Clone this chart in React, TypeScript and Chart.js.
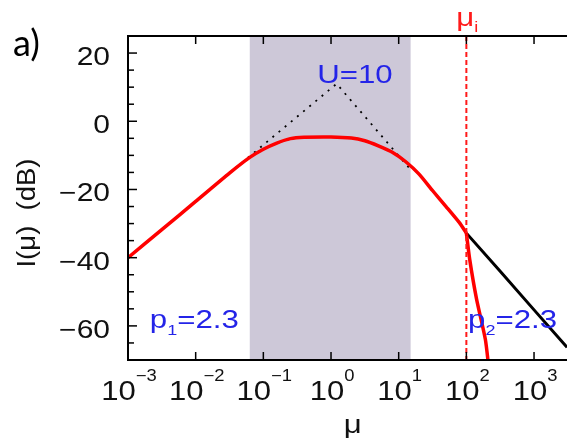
import React, { useEffect, useRef } from "react";
import { Chart, registerables } from "chart.js";
Chart.register(...registerables);

// ---- data (mu on a log axis, intensity in dB) ----
const muCurve = [0.001, 0.00316, 0.01, 0.0316, 0.063, 0.1, 0.158, 0.251, 0.398, 1.0, 2.0, 3.16, 5.01, 7.94, 12.6, 20.0, 31.6, 50.1, 79.4, 100];
const dbCurve = [-40, -31.8, -23.5, -15.2, -10.6, -8.2, -6.4, -5.1, -4.7, -4.6, -4.9, -5.7, -7.2, -9.0, -11.8, -15.5, -20.3, -25.0, -29.8, -32.8];
const muCut = [100, 112, 141, 191, 214];
const dbCut = [-32.8, -40.5, -52, -64, -72];
const muTail = [100, 316, 1000, 3070];
const dbTail = [-32.8, -44, -55.3, -66.3];
const muAsym = [0.0316, 1.21, 15.8];
const dbAsym = [-15.2, 11, -14.7];
const shadeRange = [0.063, 15];
const muI = 100;
const xMin = 0.001;
const xMax = 3070;
const yMin = -70;
const yMax = 25;
const yMajorTicks = [-60, -40, -20, 0, 20];
const yMinorStep = 5;
const xExponents = [-3, -2, -1, 0, 1, 2, 3];
const uLabel = { mu: 2.26, db: 11.2, text: "U=10" };
const p1Label = { mu: 0.0021, db: -60.5, main: "p", sub: "1", rest: "=2.3" };
const p2Label = { mu: 106, db: -60.5, main: "p", sub: "2", rest: "=2.3" };

const SX = 1.2;
const SANS = '"Liberation Sans", Arial, sans-serif';
const BLUE = "#2424e8";
const RED = "#ff1a1a";

type Part = { t: string; size: number; dy: number; font?: string };

function richWidth(ctx: CanvasRenderingContext2D, parts: Part[], sx: number) {
  let w = 0;
  for (const p of parts) {
    ctx.font = `${p.size}px ${p.font || SANS}`;
    w += ctx.measureText(p.t).width * sx;
  }
  return w;
}

function drawRich(
  ctx: CanvasRenderingContext2D,
  parts: Part[],
  x: number,
  y: number,
  align: "left" | "center" | "right",
  color: string,
  sx = SX
) {
  ctx.save();
  ctx.fillStyle = color;
  ctx.textBaseline = "alphabetic";
  ctx.textAlign = "left";
  const w = richWidth(ctx, parts, sx);
  let cx = align === "left" ? x : align === "center" ? x - w / 2 : x - w;
  for (const p of parts) {
    ctx.font = `${p.size}px ${p.font || SANS}`;
    const pw = ctx.measureText(p.t).width;
    ctx.save();
    ctx.translate(cx, y + p.dy);
    ctx.scale(sx, 1);
    ctx.fillText(p.t, 0, 0);
    ctx.restore();
    cx += pw * sx;
  }
  ctx.restore();
}

const decorPlugin = {
  id: "decor",
  beforeDatasetsDraw(chart: any) {
    const { ctx, chartArea, scales } = chart;
    const x = scales.x;
    const x0 = x.getPixelForValue(shadeRange[0]);
    const x1 = x.getPixelForValue(shadeRange[1]);
    ctx.save();
    ctx.fillStyle = "#cdc8d8";
    ctx.fillRect(x0, chartArea.top, x1 - x0, chartArea.bottom - chartArea.top);
    ctx.restore();
  },
  afterDatasetsDraw(chart: any) {
    const { ctx, chartArea, scales } = chart;
    const xs = scales.x;
    const ys = scales.y;
    const { left, right, top, bottom } = chartArea;

    // mu_i dashed line
    const xi = xs.getPixelForValue(muI);
    ctx.save();
    ctx.strokeStyle = RED;
    ctx.lineWidth = 2;
    ctx.setLineDash([5, 3]);
    ctx.beginPath();
    ctx.moveTo(xi, top);
    ctx.lineTo(xi, bottom);
    ctx.stroke();
    ctx.restore();

    // axes
    ctx.save();
    ctx.strokeStyle = "#000";
    ctx.lineWidth = 2;
    ctx.beginPath();
    ctx.moveTo(right, top);
    ctx.lineTo(left, top);
    ctx.lineTo(left, bottom);
    ctx.lineTo(right, bottom);
    ctx.stroke();

    // y ticks
    ctx.lineWidth = 1.5;
    for (let v = yMin + yMinorStep; v < yMax; v += yMinorStep) {
      const py = ys.getPixelForValue(v);
      const major = yMajorTicks.includes(v);
      ctx.beginPath();
      ctx.moveTo(left, py);
      ctx.lineTo(left + (major ? 9 : 6), py);
      ctx.stroke();
    }
    // x ticks (top and bottom)
    for (const e of xExponents) {
      const px = xs.getPixelForValue(Math.pow(10, e));
      if (px <= left + 1) continue;
      ctx.beginPath();
      ctx.moveTo(px, bottom);
      ctx.lineTo(px, bottom - 8);
      ctx.moveTo(px, top);
      ctx.lineTo(px, top + 8);
      ctx.stroke();
    }
    ctx.restore();

    // y tick labels
    for (const v of yMajorTicks) {
      const py = ys.getPixelForValue(v);
      const txt = v < 0 ? "\u2212" + Math.abs(v) : String(v);
      drawRich(ctx, [{ t: txt, size: 25, dy: 0 }], left - 18, py + 12, "right", "#111");
    }
    // x tick labels
    for (const e of xExponents) {
      const px = xs.getPixelForValue(Math.pow(10, e));
      const sup = e < 0 ? "\u2212" + Math.abs(e) : String(e);
      drawRich(
        ctx,
        [
          { t: "10", size: 27, dy: 0 },
          { t: sup, size: 16, dy: -19 },
        ],
        px + 1,
        bottom + 40,
        "center",
        "#111",
        1.15
      );
    }

    // axis titles
    drawRich(ctx, [{ t: "\u03bc", size: 26, dy: 0 }], xs.getPixelForValue(Math.pow(10, 0.32)), bottom + 73, "center", "#111");
    ctx.save();
    ctx.translate(35, (top + bottom) / 2 + 15);
    ctx.rotate(-Math.PI / 2);
    drawRich(ctx, [{ t: "I(\u03bc)  (dB)", size: 25, dy: 0 }], 0, 0, "center", "#111", 1.1);
    ctx.restore();

    // mu_i label
    ctx.save();
    ctx.font = `26px ${SANS}`;
    const wmu = ctx.measureText("\u03bc").width * SX;
    ctx.restore();
    drawRich(
      ctx,
      [
        { t: "\u03bc", size: 26, dy: 0 },
        { t: "i", size: 15, dy: 6 },
      ],
      xi - wmu / 2 - 1,
      top - 10,
      "left",
      RED
    );

    // annotations
    drawRich(ctx, [{ t: uLabel.text, size: 26, dy: 0 }], xs.getPixelForValue(uLabel.mu), ys.getPixelForValue(uLabel.db), "center", BLUE);
    for (const L of [p1Label, p2Label]) {
      drawRich(
        ctx,
        [
          { t: L.main, size: 26, dy: 0 },
          { t: L.sub, size: 15, dy: 7 },
          { t: L.rest, size: 26, dy: 0 },
        ],
        xs.getPixelForValue(L.mu),
        ys.getPixelForValue(L.db),
        "left",
        BLUE
      );
    }

    // panel letter
    drawRich(ctx, [{ t: "a)", size: 36, dy: 0, font: "Lato, sans-serif" }], 13, 56, "left", "#000", 1.0);
  },
};

const pts = (xs: number[], ys: number[]) => xs.map((x, i) => ({ x, y: ys[i] }));

export default function App() {
  const ref = useRef<HTMLCanvasElement | null>(null);
  useEffect(() => {
    if (!ref.current) return;
    const chart = new Chart(ref.current, {
      type: "line",
      data: {
        datasets: [
          { data: pts(muCurve, dbCurve), borderColor: "#ff0000", borderWidth: 3.5, pointRadius: 0, tension: 0.2 },
          { data: pts(muCut, dbCut), borderColor: "#ff0000", borderWidth: 3.5, pointRadius: 0, tension: 0.2 },
          { data: pts(muTail, dbTail), borderColor: "#000", borderWidth: 3, pointRadius: 0 },
          { data: pts(muCurve, dbCurve), borderColor: "#000", borderWidth: 2, pointRadius: 0, tension: 0.2 },
          { data: pts(muAsym, dbAsym), borderColor: "#000", borderWidth: 1.8, borderDash: [2, 6], pointRadius: 0 },
        ] as any,
      },
      options: {
        animation: false,
        responsive: false,
        devicePixelRatio: 1,
        layout: { padding: { left: 128, top: 36, right: 0, bottom: 82 } },
        plugins: { legend: { display: false }, tooltip: { enabled: false } },
        scales: {
          x: { type: "logarithmic", min: xMin, max: xMax, display: false },
          y: { type: "linear", min: yMin, max: yMax, display: false },
        },
      } as any,
      plugins: [decorPlugin],
    });
    return () => chart.destroy();
  }, []);
  return (
    <div style={{ position: "fixed", left: 0, top: 0, width: 567, height: 442, background: "#fff", overflow: "hidden" }}>
      <canvas ref={ref} width={567} height={442} style={{ display: "block" }} />
    </div>
  );
}
